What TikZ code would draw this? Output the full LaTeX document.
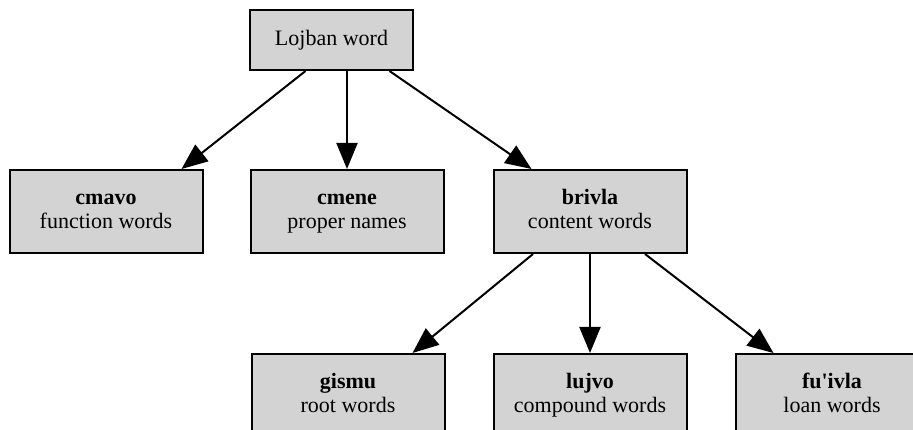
\documentclass[tikz,border=0pt]{standalone}
\usepackage{fontspec}
\setmainfont{Liberation Serif}[Ligatures=TeXOff]
\usetikzlibrary{arrows.meta,positioning}
\definecolor{wordgray}{HTML}{D3D3D3}
\newcommand{\wordkind}[2]{\textbf{#1}\strut\\#2\strut}

\begin{document}
\begin{tikzpicture}[
  x=1pt, y=1pt,
  font=\fontsize{22}{24}\selectfont,
  word/.style={draw=black, fill=wordgray, line width=2pt, align=center,
    inner sep=0pt, minimum width=193pt, minimum height=83pt},
  wflow/.style={-{Triangle[length=26pt, width=21pt]}, line width=2pt, draw=black},
]
  \useasboundingbox (0,0) rectangle (913,-430);
  \node[word, minimum width=163pt, minimum height=60pt] (lojban) at (331.5,-40) {Lojban word};
  \node[word] (cmene) at (347,-211.5) {\wordkind{cmene}{proper names}};
  \node[word, left=46pt of cmene] (cmavo) {\wordkind{cmavo}{function words}};
  \node[word, right=48pt of cmene] (brivla) {\wordkind{brivla}{content words}};
  \node[word, below=99pt of brivla] (lujvo) {\wordkind{lujvo}{compound words}};
  \node[word, left=47pt of lujvo] (gismu) {\wordkind{gismu}{root words}};
  \node[word, right=47pt of lujvo] (fuivla) {\wordkind{fu'ivla}{loan words}};
  \draw[wflow] ([xshift=-26pt]lojban.south) -- ([xshift=-22pt]cmavo.north east);
  \draw[wflow] (lojban.south -| cmene.north) -- (cmene.north);
  \draw[wflow] ([xshift=58pt]lojban.south) -- ([xshift=39pt]brivla.north west);
  \draw[wflow] ([xshift=-57pt]brivla.south) -- ([xshift=-33pt]gismu.north east);
  \draw[wflow] (brivla.south) -- (lujvo.north);
  \draw[wflow] ([xshift=55pt]brivla.south) -- ([xshift=39pt]fuivla.north west);
\end{tikzpicture}
\end{document}
